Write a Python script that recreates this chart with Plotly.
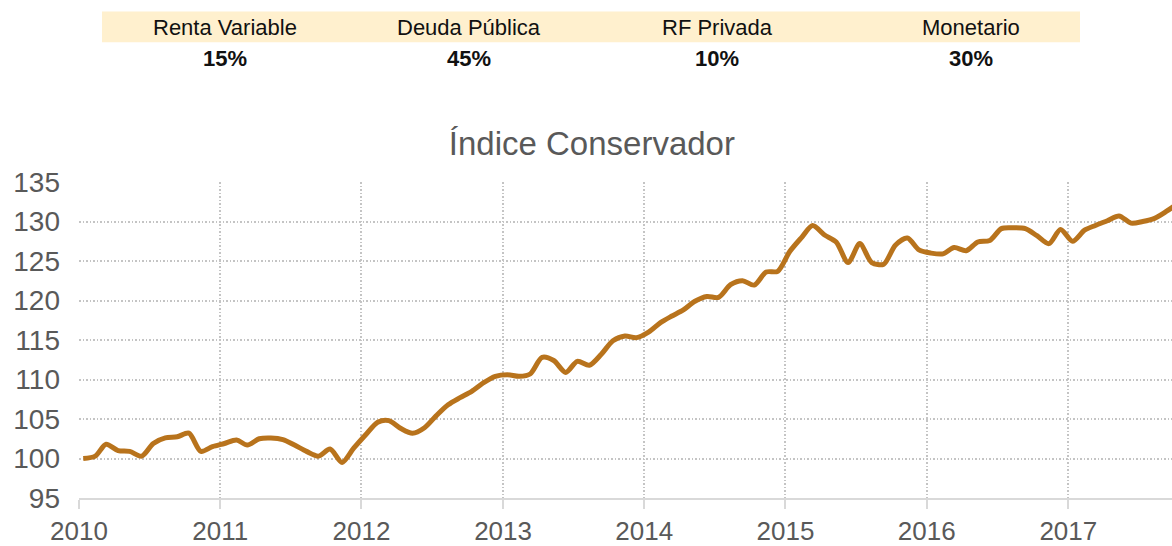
import plotly.graph_objects as go

# ---- data ----
header_labels = ["Renta Variable", "Deuda Pública", "RF Privada", "Monetario"]
header_weights = ["15%", "45%", "10%", "30%"]

start_year = 2010
index_values = [
    # 2010
    100.0, 100.3, 101.8, 101.0, 100.9, 100.3, 101.9, 102.6, 102.75, 103.2, 100.9, 101.5,
    # 2011
    101.9, 102.35, 101.7, 102.5, 102.6, 102.4, 101.7, 100.9, 100.3, 101.2, 99.5, 101.3,
    # 2012
    103.0, 104.6, 104.8, 103.8, 103.2, 103.9, 105.4, 106.8, 107.7, 108.5, 109.6, 110.4,
    # 2013
    110.6, 110.4, 110.7, 112.8, 112.4, 110.9, 112.3, 111.8, 113.2, 114.9, 115.5, 115.3,
    # 2014
    116.0, 117.2, 118.0, 118.8, 119.9, 120.5, 120.4, 122.0, 122.5, 121.95, 123.6, 123.7,
    # 2015
    126.2, 128.0, 129.5, 128.3, 127.4, 124.8, 127.2, 124.8, 124.6, 127.0, 127.9, 126.4,
    # 2016
    126.0, 125.9, 126.7, 126.3, 127.4, 127.6, 129.1, 129.2, 129.1, 128.2, 127.2, 129.0,
    # 2017
    127.5, 128.9, 129.5, 130.1, 130.7, 129.8, 130.0, 130.4, 131.3, 132.3,
]
dates = [f"{start_year + i // 12}-{i % 12 + 1:02d}-12" for i in range(len(index_values))]

year_ticks = [f"{y}-01-01" for y in range(2010, 2018)]
year_labels = [str(y) for y in range(2010, 2018)]

# ---- figure ----
W, H = 1172, 546
ML, MR, MT, MB = 79, 0, 182, 45
pw, ph = W - ML - MR, H - MT - MB

def px_x(p):
    return (p - ML) / pw

def px_y(p):
    return (H - MB - p) / ph

fig = go.Figure()
fig.add_trace(go.Scatter(
    x=dates, y=index_values, mode="lines",
    line=dict(color="#B8731C", width=5, shape="spline", smoothing=0.8),
    hoverinfo="x+y", showlegend=False,
))

TXT = "#595959"
FONT = "Liberation Sans, Arial, sans-serif"

fig.update_layout(
    width=W, height=H, autosize=False,
    margin=dict(l=ML, r=MR, t=MT, b=MB, pad=0),
    paper_bgcolor="white", plot_bgcolor="white",
    font=dict(family=FONT, color=TXT),
    title=dict(text="Índice Conservador", x=0.505, xanchor="center",
               y=1 - 143 / H, yanchor="middle",
               font=dict(size=33, color=TXT, family=FONT)),
    xaxis=dict(
        type="date", range=["2010-01-01", "2017-09-26"],
        tickvals=year_ticks, ticktext=year_labels,
        showgrid=True, gridcolor="#C4C4C4", griddash="1.5px,2px", gridwidth=1.5,
        showline=True, linecolor="#D9D9D9", linewidth=2,
        ticks="outside", ticklen=9, tickcolor="#D9D9D9", tickwidth=2,
        tickfont=dict(size=26, color=TXT), zeroline=False,
    ),
    yaxis=dict(
        range=[95, 135], tickvals=list(range(95, 140, 5)),
        showgrid=True, gridcolor="#C4C4C4", griddash="1.5px,2px", gridwidth=1.5,
        showline=False, zeroline=False, ticks="",
        tickfont=dict(size=28, color=TXT), ticklabelstandoff=18,
    ),
)

# header band
fig.add_shape(type="rect", xref="paper", yref="paper",
              x0=px_x(102), x1=px_x(1080), y0=px_y(41), y1=px_y(10),
              fillcolor="#FFF0CE", line=dict(width=0), layer="below")

centers = [224.5, 469, 717, 970.5]
for cx, lab, wt in zip(centers, header_labels, header_weights):
    fig.add_annotation(x=px_x(cx), y=px_y(26), xref="paper", yref="paper",
                       text=lab, showarrow=False, xanchor="center", yanchor="middle",
                       font=dict(size=22, color="#111111", family=FONT))
    fig.add_annotation(x=px_x(cx), y=px_y(57), xref="paper", yref="paper",
                       text=f"<b>{wt}</b>", showarrow=False, xanchor="center", yanchor="middle",
                       font=dict(size=22, color="#111111", family=FONT))

fig.write_html("out.html", config={"displayModeBar": False},
               post_script="document.body.style.margin='0';")
